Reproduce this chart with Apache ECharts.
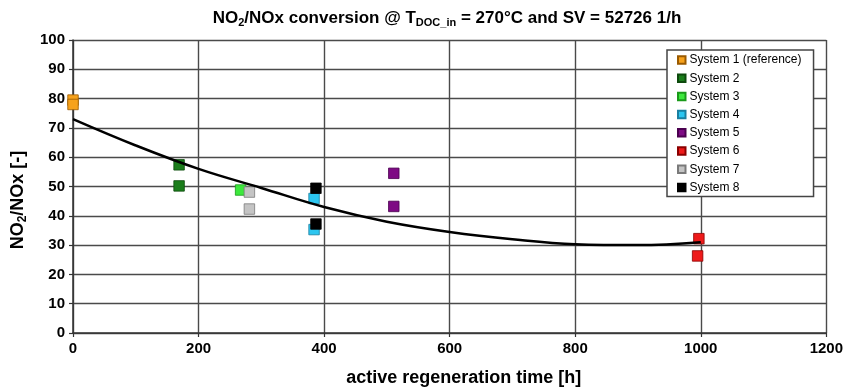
<!DOCTYPE html>
<html>
<head>
<meta charset="utf-8">
<script src="https://cdn.jsdelivr.net/npm/echarts@6/dist/echarts.min.js"></script>
<style>
  html, body { margin: 0; padding: 0; background: #fff; }
  #chart { width: 846px; height: 392px; }
</style>
</head>
<body>
<div id="chart"></div>
<script>
// Measured NO2/NOx conversion per system: [active regeneration time h, NO2/NOx %]
const system1 = [[0, 79.5], [0, 78]];
const system2 = [[169, 57.4], [169, 50.2]];
const system3 = [[267, 48.8]];
const system4 = [[384, 45.9], [384, 35.3]];
const system5 = [[511, 54.5], [511, 43.2]];
const system6 = [[997, 32.2], [995, 26.3]];
const system7 = [[281, 48.1], [281, 42.3]];
const system8 = [[387, 49.4], [387, 37.2]];

// Trend curve through all systems
const trendCurve = [
  [0, 73], [100, 64], [200, 56], [300, 49.5], [400, 43], [500, 38],
  [600, 34.5], [700, 32], [800, 30.3], [900, 30], [1000, 31]
];

const seriesNames = ['System 1 (reference)', 'System 2', 'System 3', 'System 4',
  'System 5', 'System 6', 'System 7', 'System 8'];
const seriesData = [system1, system2, system3, system4, system5, system6, system7, system8];
const fillColors = ['#f7a21b', '#1b7d1b', '#3de83d', '#2cc6f0', '#7e0a84', '#ee1a1a', '#c4c4c4', '#000000'];
const edgeColors = ['#9a5a00', '#0d4a0d', '#1a9a1a', '#1a7fa0', '#4a004f', '#8a0000', '#7a7a7a', '#000000'];

const FONT = "'Liberation Sans Narrow', 'Liberation Sans', Arial, sans-serif";

const chart = echarts.init(document.getElementById('chart'), null, { renderer: 'canvas' });

const scatterSeries = seriesNames.map((name, i) => ({
  name: name,
  type: 'scatter',
  symbol: 'rect',
  symbolSize: 10.5,
  data: seriesData[i],
  itemStyle: { color: fillColors[i], borderColor: edgeColors[i], borderWidth: 0.8, opacity: 1 },
  emphasis: { disabled: true },
  z: 3
}));

chart.setOption({
  animation: false,
  backgroundColor: '#ffffff',
  title: {
    text: '{n|NO}{s|2}{n|/NOx conversion @ T}{s|DOC_in}{n| = 270°C and SV = 52726 1/h}',
    left: 442,
    top: 3,
    textAlign: 'center',
    textStyle: {
      rich: {
        n: { fontFamily: FONT, fontWeight: 'bold', fontSize: 17, color: '#000' },
        s: { fontFamily: FONT, fontWeight: 'bold', fontSize: 11, color: '#000', verticalAlign: 'bottom', padding: [9, 0, 0, 0] }
      }
    }
  },
  graphic: [{
    type: 'text',
    x: 18,
    y: 200,
    rotation: Math.PI / 2,
    style: {
      text: '{n|NO}{s|2}{n|/NOx [-]}',
      align: 'center',
      verticalAlign: 'middle',
      rich: {
        n: { fontFamily: FONT, fontWeight: 'bold', fontSize: 18, fill: '#000' },
        s: { fontFamily: FONT, fontWeight: 'bold', fontSize: 12, fill: '#000', verticalAlign: 'bottom', padding: [9, 0, 0, 0] }
      }
    }
  }],
  grid: { left: 73, right: 19, top: 40, bottom: 57, containLabel: false },
  legend: {
    orient: 'vertical',
    left: 667,
    top: 50,
    data: seriesNames,
    icon: 'rect',
    itemWidth: 7.5,
    itemHeight: 7.5,
    itemGap: 4.2,
    padding: [3, 12, 2, 10],
    backgroundColor: '#ffffff',
    borderColor: '#444444',
    borderWidth: 1.5,
    borderRadius: 0,
    textStyle: { fontFamily: "'Liberation Sans', Arial, sans-serif", fontSize: 12, color: '#000', lineHeight: 14, padding: [0, 0, 0, -1] },
    selectedMode: false
  },
  xAxis: {
    type: 'value',
    min: 0, max: 1200, interval: 200,
    name: 'active regeneration time [h]',
    nameLocation: 'middle',
    nameGap: 36,
    nameTextStyle: { fontFamily: FONT, fontWeight: 'bold', fontSize: 18, color: '#000', padding: [0, 0, 0, 28] },
    axisLine: { show: true, onZero: false, lineStyle: { color: '#333', width: 1.5 } },
    axisTick: { show: true, length: 4, lineStyle: { color: '#333', width: 1.2 } },
    axisLabel: { fontFamily: FONT, fontWeight: 'bold', fontSize: 15, color: '#000', margin: 8, formatter: v => String(v) },
    splitLine: { show: true, lineStyle: { color: '#4a4a4a', width: 1.4 } }
  },
  yAxis: {
    type: 'value',
    min: 0, max: 100, interval: 10,
    axisLine: { show: true, lineStyle: { color: '#333', width: 1.5 } },
    axisTick: { show: true, length: 4, lineStyle: { color: '#333', width: 1.2 } },
    axisLabel: { fontFamily: FONT, fontWeight: 'bold', fontSize: 15, color: '#000', margin: 8, formatter: v => String(v) },
    splitLine: { show: true, lineStyle: { color: '#4a4a4a', width: 1.4 } }
  },
  series: scatterSeries.concat([{
    name: 'trend',
    type: 'line',
    data: trendCurve,
    smooth: 0.4,
    symbol: 'none',
    lineStyle: { color: '#000', width: 2.5 },
    emphasis: { disabled: true },
    z: 4
  }])
});
</script>
</body>
</html>
